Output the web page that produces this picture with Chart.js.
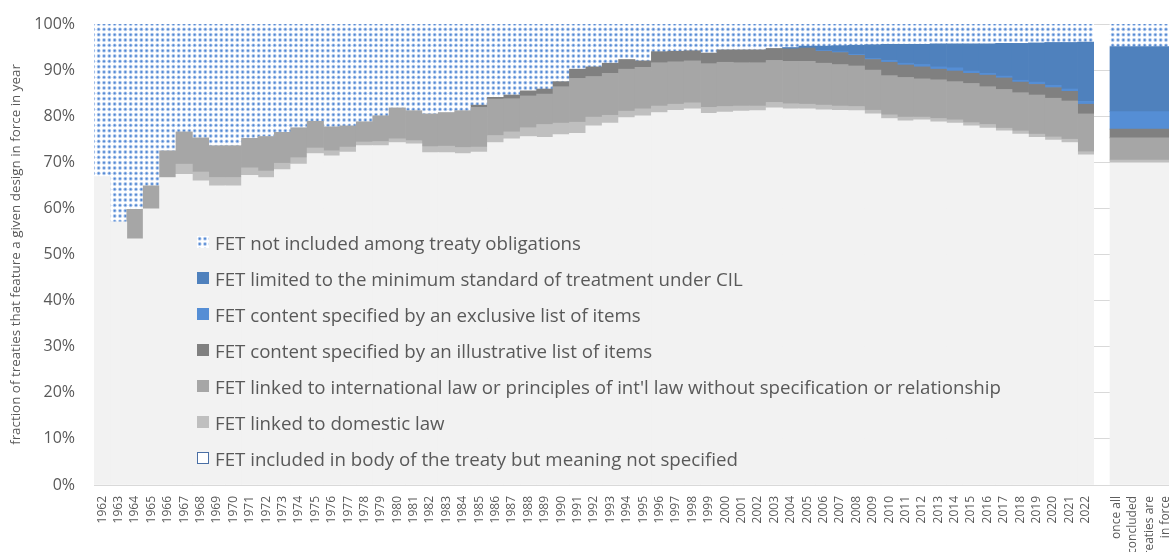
<!DOCTYPE html>
<html lang="en">
<head>
<meta charset="UTF-8">
<title>FET designs in force</title>
<script src="https://cdn.jsdelivr.net/npm/chart.js"></script>
<style>
  html, body { margin: 0; padding: 0; background: #fff; overflow: hidden; }
  body { width: 1169px; height: 552px; position: relative; font-family: 'Open Sans', sans-serif; }
  #wrapMain { position: absolute; left: 0; top: 0; }
  #wrapTail { position: absolute; left: 1094px; top: 0; }
  #legend { position: absolute; left: 197px; top: 224px; color: #595959; font-size: 18.7px; }
  #legend .row { height: 36px; display: flex; align-items: center; white-space: nowrap; }
  #legend .box { width: 12px; height: 12px; margin-right: 6px; box-sizing: border-box; flex: none; }
</style>
</head>
<body>
<div id="wrapMain"><canvas id="mainChart" width="1094" height="552"></canvas></div>
<div id="wrapTail"><canvas id="tailChart" width="94" height="552"></canvas></div>
<div id="legend"></div>

<script>
// categories
const years = ['1962','1963','1964','1965','1966','1967','1968','1969','1970','1971',
               '1972','1973','1974','1975','1976','1977','1978','1979','1980','1981',
               '1982','1983','1984','1985','1986','1987','1988','1989','1990','1991',
               '1992','1993','1994','1995','1996','1997','1998','1999','2000','2001',
               '2002','2003','2004','2005','2006','2007','2008','2009','2010','2011',
               '2012','2013','2014','2015','2016','2017','2018','2019','2020','2021',
               '2022'];
const finalLabel = ['once all', 'concluded', 'treaties are', 'in force'];

// series, bottom of the stack first (percent of treaties in force)
const notSpecified = [66.9, 57.1, 53.4, 59.9, 66.7, 67.4, 66.0, 64.9, 64.9, 67.2,
                      66.7, 68.4, 69.6, 71.9, 71.4, 72.2, 73.6, 73.6, 74.3, 74.0,
                      72.1, 72.1, 71.9, 72.2, 74.3, 75.1, 75.6, 75.4, 76.0, 76.3,
                      77.9, 78.5, 79.7, 80.1, 80.8, 81.3, 81.6, 80.6, 80.9, 81.1,
                      81.2, 81.8, 81.6, 81.6, 81.4, 81.3, 81.2, 80.5, 79.5, 79.0,
                      79.2, 78.8, 78.5, 77.9, 77.4, 76.8, 76.1, 75.4, 74.8, 74.3,
                      71.6];
const domestic = [0, 0, 0, 0, 0, 2.2, 1.9, 1.8, 1.8, 1.6,
                  1.4, 1.4, 1.4, 1.2, 1.1, 1.1, 0.8, 0.9, 0.8, 0.7,
                  1.3, 1.4, 1.3, 1.1, 1.5, 1.5, 1.9, 2.8, 2.5, 2.4,
                  1.9, 1.7, 1.4, 1.5, 1.4, 1.3, 1.3, 1.3, 1.2, 1.1,
                  1.0, 1.2, 1.1, 1.0, 1.0, 0.9, 0.9, 0.8, 0.8, 0.8,
                  0.6, 0.7, 0.7, 0.7, 0.8, 0.6, 0.7, 0.7, 0.7, 0.7,
                  0.7];
const intlLaw = [0, 0, 6.4, 5.0, 5.8, 7.0, 7.4, 6.9, 6.9, 6.4,
                 7.5, 6.7, 6.5, 5.8, 5.2, 4.6, 4.4, 5.6, 6.7, 6.5,
                 7.1, 7.3, 8.0, 8.6, 7.9, 7.2, 6.9, 6.6, 7.9, 9.5,
                 8.8, 9.1, 9.1, 9.0, 9.4, 9.2, 9.1, 9.5, 9.6, 9.4,
                 9.4, 9.1, 9.2, 9.3, 9.1, 9.0, 8.8, 8.7, 8.5, 8.6,
                 8.3, 8.4, 8.3, 8.5, 8.2, 8.4, 8.3, 8.5, 8.4, 8.3,
                 8.2];
const illustrative = [0, 0, 0, 0, 0, 0, 0, 0, 0, 0,
                      0, 0, 0, 0, 0, 0, 0, 0, 0, 0,
                      0, 0, 0, 0.5, 0.4, 0.8, 1.1, 1.1, 1.1, 2.0,
                      2.1, 2.2, 2.1, 1.4, 2.4, 2.3, 2.2, 2.3, 2.7, 2.8,
                      2.8, 2.6, 2.7, 2.9, 2.6, 2.6, 2.3, 2.3, 2.9, 2.7,
                      2.6, 2.3, 2.3, 2.2, 2.5, 2.5, 2.3, 2.3, 2.3, 2.1,
                      2.1];
const exclusive = [0, 0, 0, 0, 0, 0, 0, 0, 0, 0,
                   0, 0, 0, 0, 0, 0, 0, 0, 0, 0,
                   0, 0, 0, 0, 0, 0, 0, 0, 0, 0,
                   0, 0, 0, 0, 0, 0, 0, 0, 0, 0,
                   0, 0, 0, 0, 0.2, 0.2, 0.2, 0.2, 0.4, 0.4,
                   0.5, 0.5, 0.7, 0.5, 0.4, 0.4, 0.4, 0.5, 0.5, 0.5,
                   0.6];
const minStandard = [0, 0, 0, 0, 0, 0, 0, 0, 0, 0,
                     0, 0, 0, 0, 0, 0, 0, 0, 0, 0,
                     0, 0, 0, 0, 0, 0, 0, 0, 0, 0,
                     0, 0, 0, 0, 0, 0, 0, 0, 0, 0,
                     0, 0, 0.3, 0.4, 0.9, 1.3, 2.0, 3.0, 3.5, 4.1,
                     4.4, 5.0, 5.2, 5.9, 6.4, 7.1, 8.0, 8.5, 9.3, 10.1,
                     12.9];
const notIncluded = [33.1, 42.9, 40.2, 35.1, 27.5, 23.4, 24.7, 26.4, 26.4, 24.8,
                     24.4, 23.5, 22.5, 21.1, 22.3, 22.1, 21.2, 19.9, 18.2, 18.8,
                     19.5, 19.2, 18.8, 17.6, 15.9, 15.4, 14.5, 14.1, 12.5, 9.8,
                     9.3, 8.5, 7.7, 8.0, 6.0, 5.9, 5.8, 6.3, 5.6, 5.6,
                     5.6, 5.3, 5.1, 4.8, 4.8, 4.7, 4.6, 4.5, 4.4, 4.4,
                     4.4, 4.3, 4.3, 4.3, 4.3, 4.2, 4.2, 4.1, 4.0, 4.0,
                     3.9];

// the separate bar "once all concluded treaties are in force", same order
const finalValues = [69.9, 0.6, 4.8, 1.9, 3.8, 14.1, 4.9];

const yTicks = [0, 10, 20, 30, 40, 50, 60, 70, 80, 90, 100];

const seriesNames = [
  'FET included in body of the treaty but meaning not specified',
  'FET linked to domestic law',
  "FET linked to international law or principles of int'l law without specification or relationship",
  'FET content specified by an illustrative list of items',
  'FET content specified by an exclusive list of items',
  'FET limited to the minimum standard of treatment under CIL',
  'FET not included among treaty obligations'
];
const seriesData = [notSpecified, domestic, intlLaw, illustrative, exclusive, minStandard, notIncluded];

const FONT = "'Open Sans', sans-serif";
const TXT = '#595959';
const GRID = '#d9d9d9';
const TAIL_FONT = 12, TAIL_LH = 1.35;

// dotted fill for "not included"
function dotTile() {
  const c = document.createElement('canvas');
  c.width = 16; c.height = 16;
  const g = c.getContext('2d');
  g.fillStyle = '#ffffff';
  g.fillRect(0, 0, 16, 16);
  for (let i = 0; i < 3; i++) {
    for (let j = 0; j < 3; j++) {
      const cx = 2.67 + i * 5.33, cy = 2.67 + j * 5.33;
      g.fillStyle = '#aec7ec';
      g.beginPath(); g.arc(cx, cy, 1.9, 0, Math.PI * 2); g.fill();
      g.fillStyle = '#4f86d2';
      g.beginPath(); g.arc(cx, cy, 1.0, 0, Math.PI * 2); g.fill();
    }
  }
  return c;
}
const tile = dotTile();
const dotPattern = document.createElement('canvas').getContext('2d').createPattern(tile, 'repeat');

const colors = ['#f2f2f2', '#bfbfbf', '#a6a6a6', '#808080', '#558ed5', '#4f81bd', dotPattern];

function barSet(i, data, extra) {
  return Object.assign({
    label: seriesNames[i],
    data: data,
    backgroundColor: colors[i],
    borderWidth: 0,
    barPercentage: 1,
    categoryPercentage: 1,
    inflateAmount: ctx => (ctx.raw > 0 ? 0.33 : 0)
  }, extra || {});
}

// fixed axis sizes, no extra padding for overhanging labels
function fitX(s) {
  s.height = 67;
  s.paddingLeft = 0;
  s.paddingRight = 0;
}
function fitY(width) {
  return s => {
    s.width = width;
    s.paddingTop = 0;
    s.paddingBottom = 0;
  };
}

const mainChart = new Chart(document.getElementById('mainChart'), {
  type: 'bar',
  data: {
    labels: years,
    datasets: seriesData.map((d, i) => barSet(i, d))
  },
  options: {
    responsive: false,
    animation: false,
    layout: { padding: { top: 24, right: 0, bottom: 0, left: 0 } },
    plugins: { legend: { display: false }, tooltip: { enabled: false } },
    scales: {
      x: {
        stacked: true,
        grid: { display: false },
        border: { color: GRID, width: 1 },
        ticks: { autoSkip: false, minRotation: 90, maxRotation: 90, padding: 3,
                 color: TXT, font: { family: FONT, size: 12 } },
        afterFit: fitX
      },
      y: {
        stacked: true,
        min: 0, max: 100,
        afterBuildTicks: s => { s.ticks = yTicks.map(v => ({ value: v })); },
        ticks: { callback: v => v + '%', padding: 19, color: TXT, font: { family: FONT, size: 16 } },
        grid: { color: GRID, drawTicks: false },
        border: { display: false },
        title: { display: true, text: 'fraction of treaties that feature a given design in force in year',
                 color: TXT, font: { family: FONT, size: 13.4 }, padding: { top: 8, bottom: 0 } },
        afterFit: fitY(94)
      }
    }
  }
});

// place the tail chart right after the last year
const area = mainChart.chartArea;
document.getElementById('wrapTail').style.left = area.right + 'px';

new Chart(document.getElementById('tailChart'), {
  type: 'bar',
  data: {
    labels: [finalLabel],
    datasets: finalValues.map((v, i) => barSet(i, [v], { barPercentage: 0.66 }))
  },
  options: {
    responsive: false,
    animation: false,
    layout: { padding: { top: area.top, right: 0, bottom: 0, left: 0 } },
    plugins: { legend: { display: false }, tooltip: { enabled: false } },
    scales: {
      x: {
        stacked: true,
        grid: { display: false },
        border: { color: GRID, width: 1 },
        ticks: { minRotation: 90, maxRotation: 90, padding: 3,
                 // centre the block of lines on the bar
                 labelOffset: -(finalLabel.length - 1) * TAIL_FONT * TAIL_LH / 2,
                 color: TXT, font: { family: FONT, size: TAIL_FONT, lineHeight: TAIL_LH } },
        afterFit: fitX
      },
      y: {
        stacked: true,
        min: 0, max: 100,
        afterBuildTicks: s => { s.ticks = yTicks.map(v => ({ value: v })); },
        ticks: { display: false },
        grid: { color: GRID, drawTicks: false },
        border: { display: false },
        afterFit: fitY(0)
      }
    }
  }
});

// legend, top of the stack first
const legend = document.getElementById('legend');
for (let i = seriesNames.length - 1; i >= 0; i--) {
  const row = document.createElement('div');
  row.className = 'row';
  const box = document.createElement('span');
  box.className = 'box';
  if (i === 6) {
    box.style.backgroundImage = 'url(' + tile.toDataURL() + ')';
    box.style.backgroundSize = '16px 16px';
  } else if (i === 0) {
    box.style.background = '#ffffff';
    box.style.border = '1px solid #4a6fa5';
  } else {
    box.style.background = colors[i];
  }
  const txt = document.createElement('span');
  txt.textContent = seriesNames[i];
  row.appendChild(box);
  row.appendChild(txt);
  legend.appendChild(row);
}
</script>
</body>
</html>
